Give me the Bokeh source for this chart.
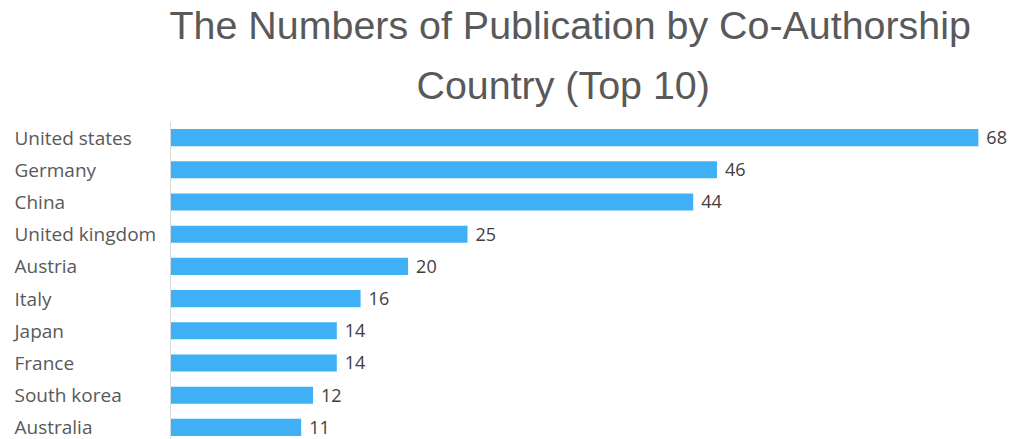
from bokeh.plotting import figure
from bokeh.models import Range1d, Span, Title, ColumnDataSource
from bokeh.core.properties import value
from bokeh.embed import file_html
from bokeh.resources import INLINE

countries = ["United states", "Germany", "China", "United kingdom", "Austria",
             "Italy", "Japan", "France", "South korea", "Australia"]
counts = [68, 46, 44, 25, 20, 16, 14, 14, 12, 11]
title_line1 = "The Numbers of Publication by Co-Authorship"
title_line2 = "Country (Top 10)"

pos = list(range(len(countries)))
src = ColumnDataSource(dict(country=countries, count=counts, pos=pos,
                            zero=[0] * len(countries),
                            label=[str(c) for c in counts]))

p = figure(width=1011, height=439, output_backend="svg", toolbar_location=None,
           x_range=Range1d(-14.31, 70.79), y_range=Range1d(9.376, -0.5),
           min_border_left=0, min_border_right=0, min_border_bottom=0,
           min_border_top=121, title=None)
p.outline_line_color = None
p.xaxis.visible = False
p.yaxis.visible = False
p.xgrid.visible = False
p.ygrid.visible = False
p.background_fill_color = "white"
p.border_fill_color = "white"

for txt, so, off in [(title_line2, 29, 416), (title_line1, 0, 169)]:
    t = Title(text=txt, align="left", text_font="Liberation Sans",
              text_font_size="39.4px", text_font_style="normal", text_color="#595959",
              standoff=so, offset=off)
    p.add_layout(t, "above")

p.add_layout(Span(location=0, dimension="height", line_color="#d9d9d9", line_width=1))

p.hbar(y="pos", left=0, right="count", height=0.53, source=src,
       fill_color="#40B0F6", line_color=None)

p.text(x="count", y="pos", text="label", source=src, x_offset=8,
       text_align="left", text_baseline="middle", text_font=value("Open Sans"),
       text_font_size="18px", text_color="#404040")

p.text(x="zero", y="pos", text="country", source=src, x_offset=-156,
       text_align="left", text_baseline="middle", text_font=value("Open Sans"),
       text_font_size="19px", text_color="#595959")

open("out.html", "w").write(file_html(p, INLINE))
